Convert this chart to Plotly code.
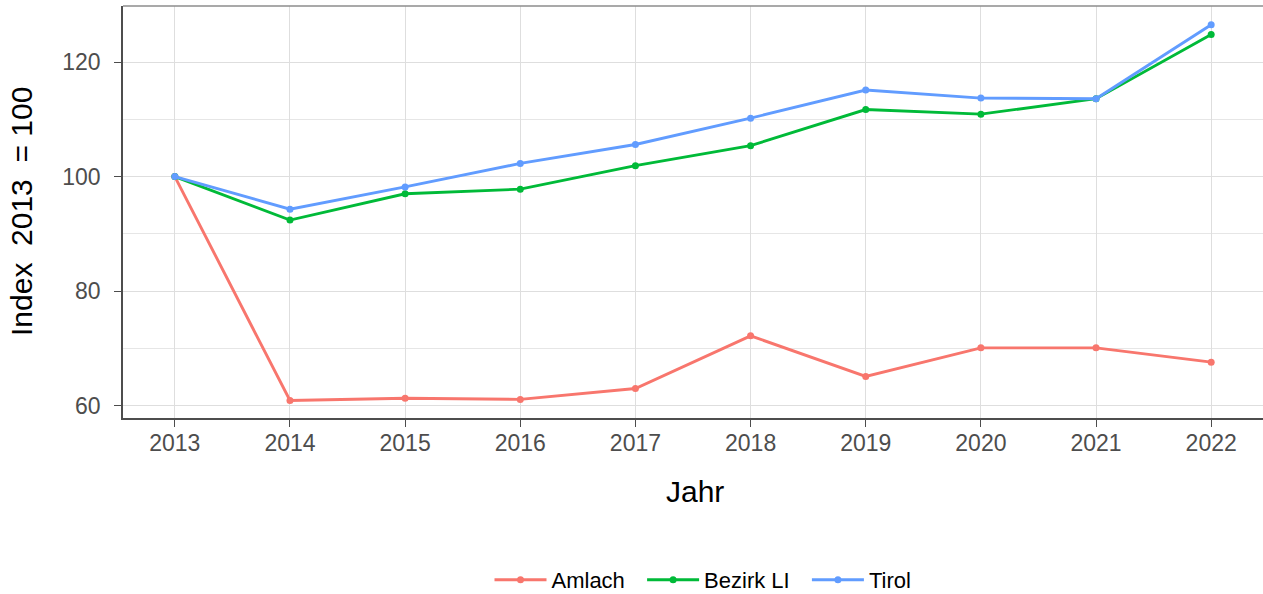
import plotly.graph_objects as go

years = [2013, 2014, 2015, 2016, 2017, 2018, 2019, 2020, 2021, 2022]
amlach = [100, 60.9, 61.3, 61.1, 63.0, 72.2, 65.1, 70.1, 70.1, 67.6]
bezirk_li = [100, 92.4, 97.0, 97.8, 101.9, 105.4, 111.7, 110.9, 113.6, 124.8]
tirol = [100, 94.3, 98.2, 102.3, 105.6, 110.2, 115.1, 113.7, 113.6, 126.5]

series_names = ["Amlach", "Bezirk LI", "Tirol"]
series_values = [amlach, bezirk_li, tirol]
colors = ["#F8766D", "#00BA38", "#619CFF"]

y_ticks = [60, 80, 100, 120]

FONT = "Liberation Sans, Arial, sans-serif"
TICK_COL = "#4D4D4D"

fig = go.Figure()
for name, vals, col in zip(series_names, series_values, colors):
    fig.add_trace(go.Scatter(
        x=years, y=vals, name=name + "\u00a0\u00a0", mode="lines+markers",
        line=dict(color=col, width=2.9),
        marker=dict(color=col, size=7),
    ))

fig.update_layout(
    width=1263, height=594,
    margin=dict(l=123, r=0, t=6, b=176, autoexpand=False),
    paper_bgcolor="white", plot_bgcolor="white",
    font=dict(family=FONT, color="#000000"),
    showlegend=True,
    legend=dict(orientation="h", x=(709 - 123) / 1140, xanchor="center", y=(418 - 580) / 412, yanchor="middle",
                font=dict(size=22, color="#000000", family=FONT), itemwidth=52, tracegroupgap=0),
    xaxis=dict(
        range=[2012.55, 2022.45], tickmode="array", tickvals=years,
        ticktext=[str(y) for y in years],
        showgrid=True, gridcolor="#DEDEDE", gridwidth=1,
        ticks="outside", ticklen=7, tickcolor=TICK_COL, tickwidth=1.2,
        tickfont=dict(size=23, color=TICK_COL, family=FONT),
        ticklabelstandoff=-4,
        showline=True, linecolor=TICK_COL, linewidth=1.8,
        zeroline=False, automargin=False,
    ),
    yaxis=dict(
        range=[57.85, 129.78], tickmode="array", tickvals=y_ticks,
        showgrid=True, gridcolor="#DEDEDE", gridwidth=1,
        minor=dict(dtick=10, tick0=0, showgrid=True, gridcolor="#E6E6E6", gridwidth=0.9),
        ticks="outside", ticklen=7, tickcolor=TICK_COL, tickwidth=1.2,
        tickfont=dict(size=23, color=TICK_COL, family=FONT),
        ticklabelstandoff=9,
        showline=True, linecolor=TICK_COL, linewidth=1.8,
        zeroline=False, automargin=False,
    ),
)

# top panel border
fig.add_shape(type="line", xref="paper", yref="paper", x0=0, x1=1, y0=1, y1=1,
              line=dict(color="#8C8C8C", width=1.5))

fig.add_annotation(text="Jahr", xref="paper", yref="paper", x=(695 - 123) / 1140, y=(418 - 492) / 412,
                   showarrow=False, xanchor="center", yanchor="middle",
                   font=dict(size=30, color="#000000", family=FONT))
fig.add_annotation(text="Index\u00a0 2013\u00a0 = 100", xref="paper", yref="paper",
                   x=(21 - 123) / 1140, y=0.5, textangle=-90,
                   showarrow=False, xanchor="center", yanchor="middle",
                   font=dict(size=30, color="#000000", family=FONT))

fig.write_html("out.html", config={"displayModeBar": False},
               post_script="document.body.style.margin='0';document.body.style.padding='0';")
